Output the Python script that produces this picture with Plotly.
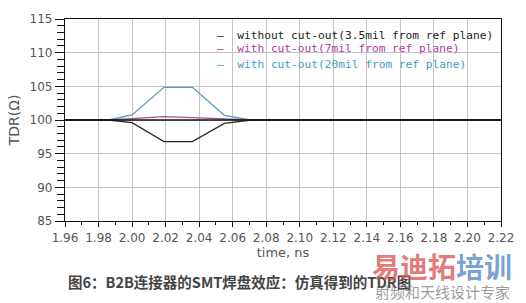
import plotly.graph_objects as go

# Data
time_ns = [1.96, 1.986, 2.000, 2.019, 2.036, 2.055, 2.071, 2.22]
tdr_without = [100, 100, 99.6, 96.8, 96.8, 99.5, 100, 100]
tdr_7mil = [100, 100, 100.2, 100.5, 100.35, 100.15, 100, 100]
tdr_20mil = [100, 100, 100.75, 104.85, 104.85, 100.7, 100, 100]

series_names = [
    "without cut-out(3.5mil from ref plane)",
    "with cut-out(7mil from ref plane)",
    "with cut-out(20mil from ref plane)",
]
line_colors = ["#2a2a2a", "#a8509a", "#5b9cbc"]
text_colors = ["#222222", "#b0409f", "#3f9cc4"]

x_ticks = [1.96 + 0.02 * i for i in range(14)]
x_tick_labels = [f"{v:.2f}" for v in x_ticks]
y_ticks = [85, 90, 95, 100, 105, 110, 115]

font_family = "DejaVu Sans"
legend_font = "DejaVu Sans Mono"

fig = go.Figure()
series_values = [tdr_without, tdr_7mil, tdr_20mil]
for idx in [2, 1, 0]:
    fig.add_trace(go.Scatter(
        x=time_ns, y=series_values[idx], mode="lines",
        line=dict(color=line_colors[idx], width=1.3),
        name=series_names[idx], showlegend=False,
    ))

# legend as colored text
legend_y = [0.92, 0.855, 0.775]
for i, name in enumerate(series_names):
    fig.add_annotation(
        xref="paper", yref="paper", x=0.345, y=legend_y[i],
        text="–&nbsp;&nbsp;" + name, showarrow=False,
        xanchor="left", yanchor="middle",
        font=dict(family=legend_font, size=11.2, color=text_colors[i]),
    )

fig.update_xaxes(
    range=[1.96, 2.22], tickvals=x_ticks, ticktext=x_tick_labels,
    showgrid=True, gridcolor="#c4c4c4", gridwidth=1,
    showline=True, linecolor="#111", linewidth=1.3, mirror=True,
    ticks="outside", ticklen=5, tickcolor="#111",
    minor=dict(dtick=0.01, ticks="outside", ticklen=3, tickcolor="#111", showgrid=False),
    tickfont=dict(family=font_family, size=12, color="#555"),
    title=dict(text="time, ns", font=dict(family=font_family, size=13, color="#555"), standoff=4),
    zeroline=False,
)
fig.update_yaxes(
    range=[85, 115], tickvals=y_ticks,
    showgrid=True, gridcolor="#c4c4c4", gridwidth=1,
    showline=True, linecolor="#111", linewidth=1.3, mirror=True,
    ticks="outside", ticklen=9, tickcolor="#111",
    minor=dict(dtick=1, ticks="outside", ticklen=7, tickcolor="#111", showgrid=False),
    tickfont=dict(family=font_family, size=12, color="#555"),
    title=dict(text="TDR(Ω)", font=dict(family=font_family, size=14, color="#555"), standoff=6),
    zeroline=False,
)

# reference line at 100
fig.add_hline(y=100, line=dict(color="#111", width=1.5))

# caption and watermark
fig.add_annotation(
    xref="paper", yref="paper", x=0.003, y=-0.30, xanchor="left", yanchor="middle",
    text="<b>图6：B2B连接器的SMT焊盘效应：仿真得到的TDR图</b>", showarrow=False,
    font=dict(family="Noto Sans CJK SC", size=14.5, color="#444"),
)
fig.add_annotation(
    xref="paper", yref="paper", x=1.029, y=-0.222, xanchor="right", yanchor="middle",
    text="<b><span style='color:rgba(220,80,80,0.75)'>易迪拓</span><span style='color:rgba(80,130,200,0.75)'>培训</span></b>",
    showarrow=False, font=dict(family="Noto Sans CJK SC", size=28),
)
fig.add_annotation(
    xref="paper", yref="paper", x=1.025, y=-0.35, xanchor="right", yanchor="middle",
    text="射频和天线设计专家", showarrow=False,
    font=dict(family="Noto Sans CJK SC", size=15, color="rgba(110,110,110,0.7)"),
)

fig.update_layout(
    width=526, height=303,
    margin=dict(l=65, r=16, t=15, b=82),
    paper_bgcolor="white", plot_bgcolor="white",
    showlegend=False,
)
fig.write_html("out.html")
